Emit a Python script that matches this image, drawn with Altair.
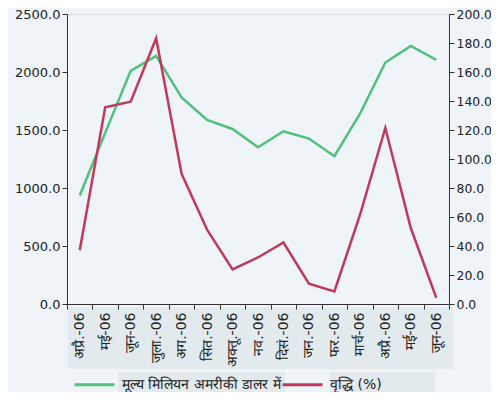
import json
import altair as alt
import pandas as pd

months = ["अप्रै.-06", "मई-06", "जून-06", "जुला.-06", "अग.-06", "सित.-06", "अक्तू.-06",
          "नव.-06", "दिसं.-06", "जन.-06", "फर.-06", "मार्च-06", "अप्रै.-06", "मई-06", "जून-06"]
value = [936, 1475, 2010, 2139, 1781, 1587, 1509, 1351, 1489, 1426, 1274, 1638, 2082, 2225, 2105]
growth = [37.1, 135.6, 139.5, 183.3, 89.8, 51.3, 23.8, 32.1, 42.4, 14.0, 8.7, 61.2, 121.4, 52.4, 4.3]
names = ["मूल्य मिलियन अमरीकी डालर में", "वृद्धि (%)"]

GREEN = "#52bf7e"
RED = "#bf3a5c"
AXIS = "#333333"
BOX = "#e2eaed"

df = pd.DataFrame({"i": list(range(len(months))), "value": value, "growth": growth})
label_expr = json.dumps(months, ensure_ascii=False) + "[datum.value]"

x = alt.X("i:O",
          scale=alt.Scale(type="band", paddingInner=0, paddingOuter=0),
          axis=alt.Axis(title=None, labelExpr=label_expr, labelAngle=-90, zindex=1,
                        tickBand="extent", labelFontSize=14, labelColor="#222",
                        domainColor=AXIS, tickColor=AXIS, tickSize=5, labelPadding=3))

color_scale = alt.Scale(domain=names, range=[GREEN, RED])
legend = alt.Legend(title=None, orient="none", legendX=6, legendY=349, direction="horizontal",
                    symbolType="stroke", symbolSize=1600, symbolStrokeWidth=3, zindex=1,
                    labelFontSize=14, labelColor="#222", labelLimit=400, columnPadding=-34,
                    labelOffset=6)
color = alt.Color("series:N", scale=color_scale, legend=legend, sort=names)

# decorative background boxes (label band and legend label boxes)
boxes = alt.Chart(df.head(1)).mark_rect(color=BOX).encode(
    x=alt.value(1), x2=alt.value(386), y=alt.value(293), y2=alt.value(355))
box_l1 = alt.Chart(df.head(1)).mark_rect(color=BOX).encode(
    x=alt.value(51), x2=alt.value(218), y=alt.value(358), y2=alt.value(381))
box_l2 = alt.Chart(df.head(1)).mark_rect(color=BOX).encode(
    x=alt.value(263), x2=alt.value(368), y=alt.value(358), y2=alt.value(381))

left = alt.Chart(df).transform_calculate(series=json.dumps(names[0], ensure_ascii=False)).mark_line(strokeWidth=2.5).encode(
    x=x,
    y=alt.Y("value:Q", scale=alt.Scale(domain=[0, 2500]),
            axis=alt.Axis(title=None, orient="left", values=[0, 500, 1000, 1500, 2000, 2500],
                          format=".1f", grid=False, labelFontSize=13, labelColor="#222", zindex=1,
                          domainColor=AXIS, tickColor=AXIS, tickSize=5)),
    color=color,
)

right = alt.Chart(df).transform_calculate(series=json.dumps(names[1], ensure_ascii=False)).mark_line(strokeWidth=2.5).encode(
    x=x,
    y=alt.Y("growth:Q", scale=alt.Scale(domain=[0, 200]),
            axis=alt.Axis(title=None, orient="right", values=list(range(0, 201, 20)),
                          format=".1f", grid=False, labelFontSize=12.4, labelColor="#222", zindex=1,
                          domainColor=AXIS, tickColor=AXIS, tickSize=5, labelPadding=2)),
    color=color,
)

chart = alt.layer(boxes, box_l1, box_l2, left, right).resolve_scale(y="independent").properties(
    width=382, height=290, background="#eef4f7",
    autosize=alt.AutoSizeParams(type="none"),
    padding={"left": 59, "top": 6, "right": 42, "bottom": 88},
).configure_view(stroke=None).configure(font="DejaVu Sans")

chart.save("out.html", embed_options={"renderer": "svg", "actions": False})
